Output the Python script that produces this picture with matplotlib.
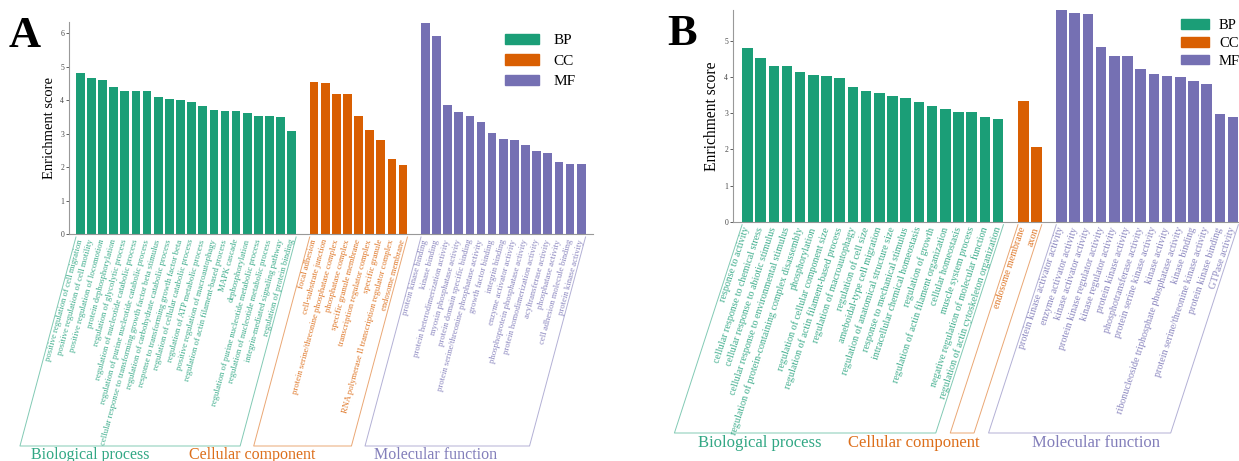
import matplotlib
matplotlib.use("Agg")
import matplotlib.pyplot as plt
from matplotlib.lines import Line2D
from matplotlib.patches import Patch
import numpy as np

plt.rcParams['font.family'] = ['Liberation Serif', 'DejaVu Serif']

W, H = 1239, 461
colors = {"BP": "#1B9E77", "CC": "#D95F02", "MF": "#7570B3"}
titles = {"BP": "Biological process", "CC": "Cellular component",
          "MF": "Molecular function"}

# ---- panel A ----
a_bp_terms = [
    "positive regulation of cell migration",
    "positive regulation of cell motility",
    "positive regulation of locomotion",
    "protein dephosphorylation",
    "regulation of glycolytic process",
    "regulation of nucleotide catabolic process",
    "regulation of purine nucleotide catabolic process",
    "cellular response to transforming growth factor beta stimulus",
    "regulation of carbohydrate catabolic process",
    "response to transforming growth factor beta",
    "regulation of cellular catabolic process",
    "regulation of ATP metabolic process",
    "positive regulation of macroautophagy",
    "regulation of actin filament-based process",
    "MAPK cascade",
    "dephosphorylation",
    "regulation of purine nucleotide metabolic process",
    "regulation of nucleotide metabolic process",
    "integrin-mediated signaling pathway",
    "regulation of protein binding",
]
a_bp_scores = [4.80, 4.67, 4.60, 4.38, 4.27, 4.27, 4.27, 4.08, 4.04, 4.01,
               3.95, 3.82, 3.70, 3.68, 3.66, 3.60, 3.52, 3.51, 3.48, 3.08]

a_cc_terms = [
    "focal adhesion",
    "cell-substrate junction",
    "protein serine/threonine phosphatase complex",
    "phosphatase complex",
    "specific granule membrane",
    "transcription regulator complex",
    "specific granule",
    "RNA polymerase II transcription regulator complex",
    "endosome membrane",
]
a_cc_scores = [4.55, 4.50, 4.18, 4.18, 3.52, 3.10, 2.80, 2.24, 2.05]

a_mf_terms = [
    "protein kinase binding",
    "kinase binding",
    "protein heterodimerization activity",
    "myosin phosphatase activity",
    "protein domain specific binding",
    "protein serine/threonine phosphatase activity",
    "growth factor binding",
    "integrin binding",
    "enzyme activator activity",
    "phosphoprotein phosphatase activity",
    "protein homodimerization activity",
    "acyltransferase activity",
    "phosphatase activity",
    "cell adhesion molecule binding",
    "protein kinase activity",
]
a_mf_scores = [6.31, 5.91, 3.86, 3.65, 3.52, 3.35, 3.02, 2.84, 2.82, 2.67,
               2.48, 2.43, 2.15, 2.09, 2.08]

# ---- panel B ----
b_bp_terms = [
    "response to activity",
    "cellular response to chemical stress",
    "cellular response to abiotic stimulus",
    "cellular response to environmental stimulus",
    "regulation of protein-containing complex disassembly",
    "phosphorylation",
    "regulation of cellular component size",
    "regulation of actin filament-based process",
    "regulation of macroautophagy",
    "regulation of cell size",
    "ameboidal-type cell migration",
    "regulation of anatomical structure size",
    "response to mechanical stimulus",
    "intracellular chemical homeostasis",
    "regulation of growth",
    "regulation of actin filament organization",
    "cellular homeostasis",
    "muscle system process",
    "negative regulation of molecular function",
    "regulation of actin cytoskeleton organization",
]
b_bp_scores = [4.81, 4.53, 4.29, 4.29, 4.15, 4.06, 4.03, 3.98, 3.71, 3.60,
               3.55, 3.48, 3.43, 3.31, 3.20, 3.12, 3.03, 3.03, 2.88, 2.85]

b_cc_terms = ["endosome membrane", "axon"]
b_cc_scores = [3.33, 2.07]

b_mf_terms = [
    "protein kinase activator activity",
    "enzyme activator activity",
    "kinase activator activity",
    "protein kinase regulator activity",
    "kinase regulator activity",
    "protein kinase activity",
    "phosphotransferase activity",
    "protein serine kinase activity",
    "kinase activity",
    "ribonucleoside triphosphate phosphatase activity",
    "kinase binding",
    "protein serine/threonine kinase activity",
    "protein kinase binding",
    "GTPase activity",
]
b_mf_scores = [5.84, 5.78, 5.74, 4.83, 4.57, 4.57, 4.21, 4.07, 4.04, 4.00,
               3.89, 3.80, 2.98, 2.88]


fig = plt.figure(figsize=(W / 100, H / 100), dpi=100)


def px_rect(left, top, right, bottom):
    return [left / W, 1 - bottom / H, (right - left) / W, (bottom - top) / H]


def px2fig(x, y):
    return x / W, 1 - y / H


def panel(rect, letter, letter_xy, groups, xlim, ymax, yticks, width, gap,
          lab_size, lab_rot, br_bottom, title_x, title_y, title_size,
          leg_xy, leg_size, leg_hl, leg_sp, leg_pad, ylab_size):
    ax = fig.add_axes(px_rect(*rect))
    pos_all, lab_all, col_all = [], [], []
    spans = []
    start = 0
    for key, terms, scores in groups:
        pos = start + np.arange(len(terms))
        ax.bar(pos, scores, width=width, color=colors[key], linewidth=0)
        pos_all += list(pos)
        lab_all += terms
        col_all += [colors[key]] * len(terms)
        spans.append((key, pos[0] - width / 2, pos[-1] + width / 2))
        start = pos[-1] + gap
    ax.set_xlim(*xlim)
    ax.set_ylim(0, ymax)
    ax.set_yticks(yticks)
    ax.set_xticks(pos_all)
    ax.set_xticklabels(lab_all, rotation=lab_rot, ha='right', va='center',
                       rotation_mode='anchor', fontsize=lab_size)
    for t, c in zip(ax.get_xticklabels(), col_all):
        t.set_color(c)
        t.set_alpha(0.85)
    ax.tick_params(axis='x', length=0, pad=4)
    ax.tick_params(axis='y', labelsize=5.5, length=2, width=0.6,
                   colors='#444444', pad=1.5)
    for s in ['top', 'right']:
        ax.spines[s].set_visible(False)
    for s in ['left', 'bottom']:
        ax.spines[s].set_color('#999999')
        ax.spines[s].set_linewidth(0.8)
    ax.set_ylabel("Enrichment score", fontsize=ylab_size, labelpad=3)

    # slanted brackets under each group of labels
    axis_y = H - ax.transData.transform((0, 0))[1]
    top = axis_y + 3
    off = (br_bottom - top) / np.tan(np.radians(lab_rot))
    for (key, x0, x1), tx in zip(spans, title_x):
        xl = ax.transData.transform((x0, 0))[0]
        xr = ax.transData.transform((x1, 0))[0]
        pts = [(xl, top), (xl - off, br_bottom), (xr - off, br_bottom), (xr, top)]
        fx, fy = zip(*[px2fig(*p) for p in pts])
        fig.add_artist(Line2D(fx, fy, transform=fig.transFigure,
                              color=colors[key], lw=0.7, alpha=0.55))
        fig.text(*px2fig(tx, title_y), titles[key], color=colors[key],
                 fontsize=title_size, ha='center', va='baseline', alpha=0.9)

    fig.text(*px2fig(*letter_xy), letter, fontsize=32, fontweight='bold',
             va='baseline', ha='left')

    handles = [Patch(color=colors[k], label=k) for k, _, _ in groups]
    ax.legend(handles=handles, loc='upper left', frameon=False,
              bbox_to_anchor=px2fig(*leg_xy), bbox_transform=fig.transFigure,
              fontsize=leg_size, handlelength=leg_hl, handleheight=0.65,
              labelspacing=leg_sp, handletextpad=leg_pad, borderpad=0,
              borderaxespad=0)
    return ax


panel((69, 22, 593, 234), "A", (9, 47),
      [("BP", a_bp_terms, a_bp_scores), ("CC", a_cc_terms, a_cc_scores),
       ("MF", a_mf_terms, a_mf_scores)],
      (-1.015, 46.06), 6.33, range(0, 7), 0.78, 2.0,
      6.2, 75, 446, [90, 252, 436], 459, 11.5,
      (505, 34), 11, 2.23, 0.45, 0.92, 10.5)

panel((733, 10, 1262, 221.7), "B", (667, 45),
      [("BP", b_bp_terms, b_bp_scores), ("CC", b_cc_terms, b_cc_scores),
       ("MF", b_mf_terms, b_mf_scores)],
      (-1.09, 38.99), 5.85, range(0, 6), 0.8, 1.9,
      7.2, 72, 433, [760, 914, 1096], 447, 12,
      (1181, 19), 10.5, 1.9, 0.33, 0.7, 11.2)

fig.savefig("out.png", dpi=100)
